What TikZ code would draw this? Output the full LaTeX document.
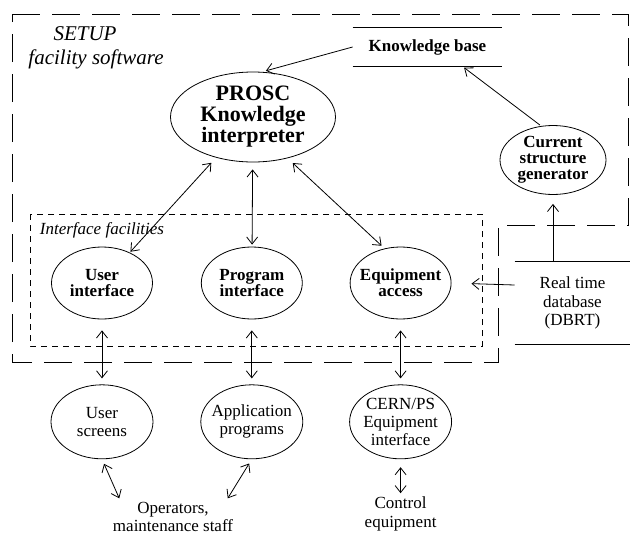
\documentclass[tikz,border=0pt]{standalone}
\usepackage{fontspec}
\setmainfont{Liberation Serif}
\usetikzlibrary{shapes,arrows.meta,positioning}

\begin{document}
\begin{tikzpicture}[x=1pt, y=-1pt, line width=0.8pt, >={Straight Barb[length=7pt,width=11pt]},
		blob/.style={draw, ellipse, inner xsep=-10pt, inner ysep=0pt, align=center},
		ifc/.style={blob, minimum width=101pt, minimum height=72pt, font=\fontsize{17}{16}\selectfont\bfseries},
		ext/.style={blob, minimum width=102pt, minimum height=74pt, font=\fontsize{17}{18}\selectfont},
		plain/.style={align=center, font=\fontsize{17}{18.5}\selectfont}]
	\useasboundingbox (0,0) rectangle (630,536);

	% frames
	\draw[dash pattern=on 28pt off 12pt] (12,14) -- (628,14) -- (628,225) -- (498,225) -- (498,362) -- (12,362) -- cycle;
	\draw[dash pattern=on 6pt off 5pt] (30,214) rectangle (482,346);
	\node[font=\fontsize{21}{21}\selectfont\itshape] (setup) at (85,34) {SETUP};
	\node[font=\fontsize{21}{21}\selectfont\itshape] (fsw) at (96,59) {facility software};
	\node[font=\fontsize{17}{17}\selectfont\itshape] (ifl) at (102,230) {Interface facilities};

	% knowledge part
	\node[draw, ellipse, minimum width=165pt, minimum height=90pt, inner sep=0pt, align=center,
		font=\fontsize{22}{21}\selectfont\bfseries] (prosc) at (253,117) {PROSC\\Knowledge\\interpreter};
	\node[minimum width=149pt, minimum height=38pt, font=\fontsize{17}{17}\selectfont\bfseries] (kb) at (427.5,47) {Knowledge base};
	\draw (kb.north west) -- (kb.north east) (kb.south west) -- (kb.south east);
	\node[blob, minimum width=106pt, minimum height=69pt, font=\fontsize{17}{16}\selectfont\bfseries] (csg) at (553,160) {Current\\structure\\generator};
	\node[plain, minimum width=115pt, minimum height=82pt] (dbrt) at (572.5,303) {Real time\\database\\(DBRT)};
	\draw (dbrt.north west) -- (dbrt.north east) (dbrt.south west) -- (dbrt.south east);

	% interface facilities
	\node[ifc] (ui) at (102,283) {User\\interface};
	\node[ifc, right=48pt of ui] (pi) {Program\\interface};
	\node[ifc, right=47pt of pi] (ea) {Equipment\\access};

	% outside
	\node[ext, below=65pt of ui] (us) {User\\screens};
	\node[ext, below=65pt of pi] (ap) {Application\\programs};
	\node[ext, below=65pt of ea] (cern) {CERN/PS\\Equipment\\interface};
	\node[plain] (ops) at (173,517) {Operators,\\maintenance staff};
	\node[plain, below=34pt of cern] (ctl) {Control\\equipment};

	\draw[->, shorten >=3pt] (kb.west) -- ([xshift=10pt]prosc.north);
	\draw[->, shorten >=2pt] ([xshift=-13pt]csg.north) -- ([xshift=35pt]kb.south);
	\draw[->, shorten >=9pt] (dbrt.north -| csg.south) -- (csg.south);
	\draw[->, shorten >=20pt] ([yshift=18pt]dbrt.west) -- (ea.east);

	\draw[<->, shorten <=7pt, shorten >=1pt] (prosc) -- (ui);
	\draw[<->, shorten <=7pt, shorten >=2pt] (prosc) -- (pi);
	\draw[<->, shorten <=7pt, shorten >=4pt] (prosc.-50) -- (ea.115);

	\draw[<->, shorten <=11pt, shorten >=6pt] (ui) -- (us);
	\draw[<->, shorten <=11pt, shorten >=6pt] (pi) -- (ap);
	\draw[<->, shorten <=11pt, shorten >=6pt] (ea) -- (cern);

	\draw[<->, shorten <=5pt] (us.south) -- ([xshift=10pt]ops.north west);
	\draw[<->, shorten <=5pt] (ap.south) -- ([xshift=-9pt]ops.north east);
	\draw[<->, shorten <=8pt] (cern) -- (ctl);
\end{tikzpicture}
\end{document}
